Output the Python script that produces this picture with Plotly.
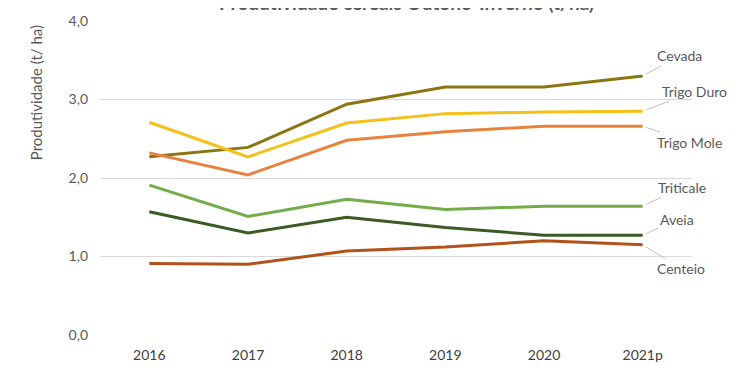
import plotly.graph_objects as go

years = ["2016", "2017", "2018", "2019", "2020", "2021p"]
cevada = [2.27, 2.39, 2.94, 3.16, 3.16, 3.30]
trigo_duro = [2.71, 2.27, 2.70, 2.82, 2.84, 2.85]
trigo_mole = [2.32, 2.04, 2.48, 2.59, 2.66, 2.66]
triticale = [1.91, 1.51, 1.73, 1.60, 1.64, 1.64]
aveia = [1.57, 1.30, 1.50, 1.37, 1.27, 1.27]
centeio = [0.91, 0.90, 1.07, 1.12, 1.20, 1.15]

series = [
    ("Cevada", cevada, "#8B7510", 37, -20),
    ("Trigo Duro", trigo_duro, "#F5C018", 52, -20),
    ("Trigo Mole", trigo_mole, "#E8823E", 47, 16),
    ("Triticale", triticale, "#72AD4A", 39, -19),
    ("Aveia", aveia, "#3B5B25", 34, -16),
    ("Centeio", centeio, "#B0521A", 38, 24),
]

font = "Lato, 'Open Sans', sans-serif"
grey = "#595959"

fig = go.Figure()
for name, vals, color, ax, ay in series:
    fig.add_trace(go.Scatter(x=years, y=vals, mode="lines", name=name,
                             line=dict(color=color, width=3), showlegend=False))
    fig.add_annotation(x=years[-1], y=vals[-1], text=name, showarrow=True,
                       arrowhead=0, arrowwidth=1, arrowcolor="#BFBFBF",
                       ax=ax, ay=ay, standoff=4,
                       font=dict(family=font, size=14, color=grey))

fig.add_annotation(text="<b>Produtividade cereais Outono-Inverno (t/ha)</b>",
                   xref="paper", yref="paper", x=0.517, y=1, yanchor="bottom",
                   yshift=5, showarrow=False,
                   font=dict(family=font, size=19, color=grey))

fig.add_annotation(text="Produtividade (t/ ha)", textangle=-90,
                   xref="paper", yref="paper", x=0, y=0.77,
                   xanchor="center", yanchor="middle", xshift=-64,
                   showarrow=False, font=dict(family=font, size=15, color=grey))

fig.update_layout(
    width=742, height=367,
    margin=dict(l=92, r=58, t=13, b=40),
    paper_bgcolor="white", plot_bgcolor="white",
    separators=",.",
    font=dict(family=font, color=grey),
    xaxis=dict(range=[-0.5, 5.5], showgrid=False, showline=False, ticks="",
               ticklabelstandoff=10, automargin=False,
               tickfont=dict(size=14, color="#404040")),
    yaxis=dict(range=[0, 4], dtick=1, tickformat=".1f", showgrid=True,
               gridcolor="#D9D9D9", gridwidth=1, zeroline=False,
               ticks="", ticklabelstandoff=11, automargin=False,
               tickfont=dict(size=14, color=grey)),
)

fig.write_html("out.html")
